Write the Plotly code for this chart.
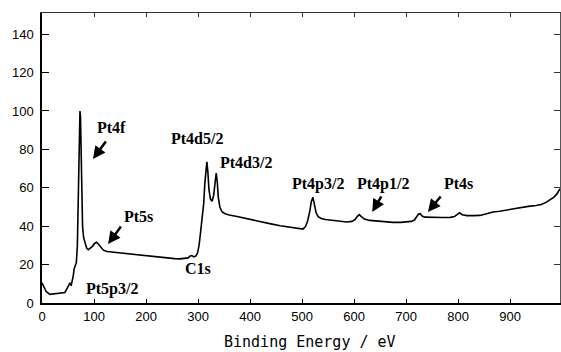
import plotly.graph_objects as go

# Binding energy (eV) and intensity values
energy = [0, 3, 8, 15, 22, 30, 38, 44, 48, 51, 54, 56, 58, 60, 62, 64, 66, 68, 69.5, 71,
          72, 73, 74, 75, 76.5, 78, 80, 83, 86, 89, 93, 97, 101, 105, 109, 113, 118, 125,
          135, 146, 160, 175, 190, 208, 225, 240, 255, 265, 275, 281, 285, 288, 292, 296,
          299, 302, 305, 308, 311, 313, 315, 317, 319, 321, 324, 327, 330, 333, 335, 337,
          339, 342, 346, 352, 360, 375, 394, 420, 440, 458, 480, 495, 502, 507, 511, 515,
          518, 521, 524, 527, 531, 537, 545, 560, 575, 586, 596, 602, 606, 610, 614, 620,
          630, 644, 660, 675, 690, 702, 710, 716, 720, 724, 727, 731, 736, 742, 755, 770,
          785, 793, 798, 803, 808, 817, 830, 842, 855, 867, 880, 895, 906, 920, 935, 950,
          960, 970, 977, 985, 990, 994, 996]
intensity = [10.5, 9, 6, 4.5, 4.7, 5.2, 5.3, 5.5, 7.5, 9.5, 10.5, 9, 11, 14, 18, 19.5, 21, 30, 55, 88,
             99, 100, 97, 80, 55, 40, 34, 31, 28.5, 27.8, 28.5, 29.5, 31, 31.6, 30.5, 29, 27.5, 26.8,
             26.5, 26, 25.8, 25.3, 24.7, 24.2, 23.8, 23.4, 23.1, 23, 23.2, 23.5, 24.5, 24.7, 24, 24.5,
             26, 30, 37, 44, 52, 62, 70, 73.5, 68, 59, 54, 53, 56, 64, 67.7, 63,
             55, 50, 47.5, 46.5, 45.8, 45, 44, 42.5, 41.2, 40.2, 39.2, 38.6, 38.5, 40, 43, 48,
             53, 55, 51, 47, 45, 44, 43.5, 43, 42.4, 42.2, 42.5, 43.5, 45, 46, 45, 43.7,
             43, 42.6, 42.2, 42, 42, 42.1, 42.5, 43.2, 44.5, 46.3, 46.5, 45.3, 44.7, 44.6, 44.6, 44.5,
             44.6, 45, 46, 47, 46, 45.5, 45.5, 45.6, 46.5, 47.4, 47.8, 48.5, 49, 49.8, 50.3, 50.8,
             51.3, 52.5, 53.6, 55.3, 56.8, 58.5, 59.5]

x_ticks = [0, 100, 200, 300, 400, 500, 600, 700, 800, 900]
y_ticks = [0, 20, 40, 60, 80, 100, 120, 140]

# peak labels: text, x, y (data coords of label centre)
labels = ["Pt4f", "Pt5s", "Pt5p3/2", "C1s", "Pt4d5/2", "Pt4d3/2", "Pt4p3/2", "Pt4p1/2", "Pt4s"]
label_x = [134, 186, 134, 300, 298, 392, 531, 656, 800]
label_y = [91.5, 45.3, 7.3, 18.2, 85.4, 73.4, 62, 62, 62]

# arrows: head position (data) and tail offset (pixels)
arrow_x = [98, 127, 635, 742]
arrow_y = [75, 30.7, 47.4, 47.4]
arrow_ax = [14, 14, 10, 14]
arrow_ay = [-19, -19, -17, -17]

fig = go.Figure()
fig.add_trace(go.Scatter(x=energy, y=intensity, mode="lines",
                         line=dict(color="black", width=1.6), showlegend=False))

tick_font = dict(family="Liberation Sans, Arial, sans-serif", size=13, color="black")
fig.update_layout(
    width=561, height=352,
    margin=dict(l=42, r=1, t=13, b=49),
    paper_bgcolor="white", plot_bgcolor="white",
    xaxis=dict(range=[0, 996], tickvals=x_ticks, ticks="inside", ticklen=4, tickcolor="black",
               showline=True, linecolor="black", linewidth=2, showgrid=False, zeroline=False,
               tickfont=tick_font),
    yaxis=dict(range=[0, 151], tickvals=y_ticks, ticks="inside", ticklen=7, tickcolor="black",
               showline=True, linecolor="black", linewidth=1.5, showgrid=False, zeroline=False,
               tickfont=tick_font, ticklabelstandoff=4),
    xaxis2=dict(range=[0, 996], tickvals=x_ticks, ticks="inside", ticklen=4, tickcolor="#333",
                overlaying="x", side="top", anchor="y", showticklabels=False,
                showline=True, linecolor="#333", linewidth=1, showgrid=False, zeroline=False),
    yaxis2=dict(range=[0, 151], tickvals=y_ticks, ticks="inside", ticklen=6, tickcolor="#333",
                overlaying="y", side="right", anchor="x", showticklabels=False,
                showline=True, linecolor="#555", linewidth=1, showgrid=False, zeroline=False),
)
# invisible trace to keep top/right axes drawn
fig.add_trace(go.Scatter(x=[None], y=[None], xaxis="x2", yaxis="y2", showlegend=False,
                         hoverinfo="skip"))

for t, lx, ly in zip(labels, label_x, label_y):
    fig.add_annotation(x=lx, y=ly, text="<b>" + t + "</b>", showarrow=False,
                       font=dict(family="Liberation Serif, Times New Roman, serif", size=16,
                                 color="black"))

for hx, hy, ax, ay in zip(arrow_x, arrow_y, arrow_ax, arrow_ay):
    fig.add_annotation(x=hx, y=hy, ax=ax, ay=ay, text="", showarrow=True,
                       arrowhead=2, arrowsize=1, arrowwidth=2.5, arrowcolor="black")

fig.add_annotation(xref="paper", yref="paper", x=(310 - 42) / 518, y=-0.135, yanchor="middle",
                   text="Binding Energy / eV", showarrow=False,
                   font=dict(family="DejaVu Sans Mono, monospace", size=15, color="black"))

fig.write_html("out.html")
